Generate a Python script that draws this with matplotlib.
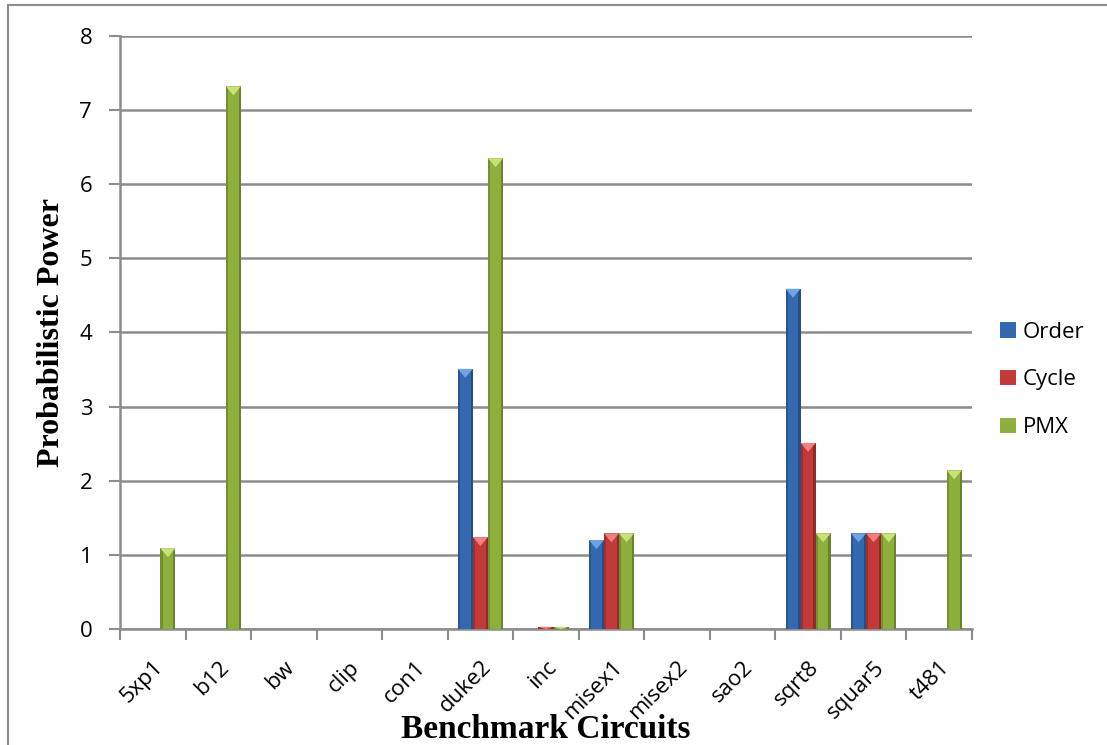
import matplotlib.pyplot as plt
import numpy as np
from matplotlib.patches import Rectangle, Polygon

circuits = ["5xp1", "b12", "bw", "clip", "con1", "duke2", "inc",
            "misex1", "misex2", "sao2", "sqrt8", "squar5", "t481"]
order = [0, 0, 0, 0, 0, 3.51, 0, 1.20, 0, 0, 4.59, 1.29, 0]
cycle = [0, 0, 0, 0, 0, 1.24, 0.03, 1.29, 0, 0, 2.51, 1.29, 0]
pmx = [1.09, 7.32, 0, 0, 0, 6.35, 0.03, 1.29, 0, 0, 1.29, 1.29, 2.14]

series = [("Order", order, "#3469b0", "#6fa3e6"),
          ("Cycle", cycle, "#c3393a", "#f08080"),
          ("PMX", pmx, "#8cb03b", "#c8e27a")]

fig = plt.figure(figsize=(11.07, 7.45), dpi=100)
# outer chart border
fig.patches.append(Rectangle((8 / 1107, -0.1), 1.2, (740 / 745) + 0.1,
                             transform=fig.transFigure, fill=False,
                             edgecolor="#8c8c8c", linewidth=1.5))
ax = fig.add_axes([0.1084, 0.1557, 0.7696, 0.796])

x = np.arange(len(circuits))
w = 0.23
for i, (name, vals, col, hi) in enumerate(series):
    bars = ax.bar(x + (i - 1) * w, vals, w, color=col, edgecolor="none",
                  label=name, zorder=3)
    for b in bars:
        h = b.get_height()
        if h <= 0:
            continue
        bx, bw = b.get_x(), b.get_width()
        # darker sides to fake the bevel
        ax.add_patch(Rectangle((bx, 0), bw * 0.15, h, color="black",
                               alpha=0.18, lw=0, zorder=4))
        ax.add_patch(Rectangle((bx + bw * 0.85, 0), bw * 0.15, h,
                               color="black", alpha=0.25, lw=0, zorder=4))
        th = min(0.12, h)
        ax.add_patch(Polygon([(bx, h), (bx + bw, h), (bx + bw / 2, h - th)],
                             color=hi, lw=0, zorder=5))

ax.set_xlim(-0.5, len(circuits) - 0.5)
ax.set_ylim(0, 8)
ax.set_yticks(range(0, 9))
ax.yaxis.grid(True, color="#8c8c8c", linewidth=1.8, zorder=0)
ax.set_axisbelow(True)

ax.set_xticks(x)
ax.set_xticklabels(circuits, rotation=45, ha="right", rotation_mode="anchor",
                   fontsize=16, fontfamily="Open Sans")
ax.set_xticks(np.arange(-0.5, len(circuits)), minor=True)
ax.tick_params(axis="x", which="major", length=0, pad=20)
ax.tick_params(axis="x", which="minor", length=8, color="#8c8c8c", width=1.5)
ax.tick_params(axis="y", length=8, color="#8c8c8c", width=1.5, labelsize=16,
               pad=12)
for lab in ax.get_yticklabels():
    lab.set_fontfamily("Open Sans")

for s in ["top", "right"]:
    ax.spines[s].set_visible(False)
for s in ["left", "bottom"]:
    ax.spines[s].set_color("#8c8c8c")
    ax.spines[s].set_linewidth(1.8)

ax.set_xlabel("Benchmark Circuits", fontsize=24, fontweight="bold",
              fontfamily="Liberation Serif", labelpad=-7)
ax.set_ylabel("Probabilistic Power", fontsize=23, fontweight="bold",
              fontfamily="Liberation Serif", labelpad=10)

leg = ax.legend(loc="center left", bbox_to_anchor=(1.01, 0.42), frameon=False,
                prop={"family": "Open Sans", "size": 16}, handlelength=0.7,
                handleheight=0.7, handletextpad=0.3, labelspacing=1.2)

fig.savefig("out.png", dpi=100)
